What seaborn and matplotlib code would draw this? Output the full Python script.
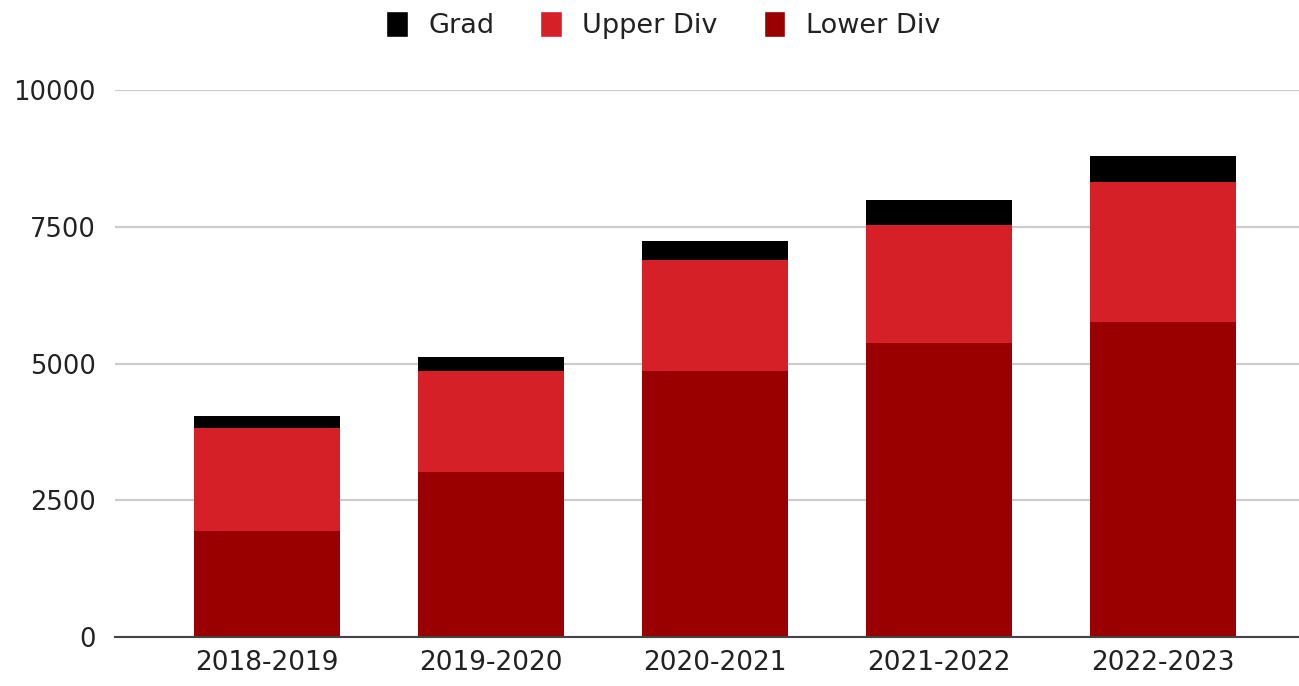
import pandas as pd
import seaborn as sns
import matplotlib.pyplot as plt
from matplotlib.patches import Patch

years = ["2018-2019", "2019-2020", "2020-2021", "2021-2022", "2022-2023"]
lower_div = [1930, 3015, 4860, 5375, 5755]
upper_div = [1885, 1845, 2025, 2150, 2565]
grad = [220, 255, 350, 455, 475]

colors = {"Grad": "#000000", "Upper Div": "#d62028", "Lower Div": "#990000"}

df = pd.DataFrame({"year": years, "Lower Div": lower_div,
                   "Upper Div": upper_div, "Grad": grad})
df["lower_top"] = df["Lower Div"]
df["upper_top"] = df["lower_top"] + df["Upper Div"]
df["grad_top"] = df["upper_top"] + df["Grad"]

sns.set_style("white")
plt.rcParams["font.family"] = ["DejaVu Sans"]

fig = plt.figure(figsize=(12.99, 6.86), dpi=100)
ax = fig.add_axes([115 / 1299, 49 / 686, 1 - 115 / 1299, 547 / 686])

# stack by drawing cumulative totals back to front
for col, name in [("grad_top", "Grad"), ("upper_top", "Upper Div"), ("lower_top", "Lower Div")]:
    sns.barplot(data=df, x="year", y=col, color=colors[name], width=0.65,
                saturation=1, linewidth=0, edgecolor="none", ax=ax, zorder=3)

ax.set_ylim(0, 10000)
ax.set_xlim(-0.679, 4.607)
ax.set_yticks([0, 2500, 5000, 7500, 10000])
ax.yaxis.grid(True, color="#cccccc", linewidth=1.6, zorder=0)
ax.set_axisbelow(True)
for s in ["top", "right", "left"]:
    ax.spines[s].set_visible(False)
ax.spines["bottom"].set_color("#444444")
ax.spines["bottom"].set_linewidth(1.5)
ax.spines["bottom"].set_zorder(4)
ax.set_xlabel("")
ax.set_ylabel("")
ax.tick_params(axis="y", length=0, pad=14, labelsize=18.5, labelcolor="#222222")
ax.tick_params(axis="x", length=0, pad=9, labelsize=19, labelcolor="#222222")

handles = [Patch(facecolor=colors[n], label=n) for n in ["Grad", "Upper Div", "Lower Div"]]
fig.legend(handles=handles, loc="center", bbox_to_anchor=(663 / 1299, 1 - 25 / 686),
           ncol=3, frameon=False, fontsize=19.5, handlelength=0.8, handleheight=1.1,
           handletextpad=0.75, columnspacing=1.7, labelcolor="#222222")

fig.savefig("out.png", dpi=100)
